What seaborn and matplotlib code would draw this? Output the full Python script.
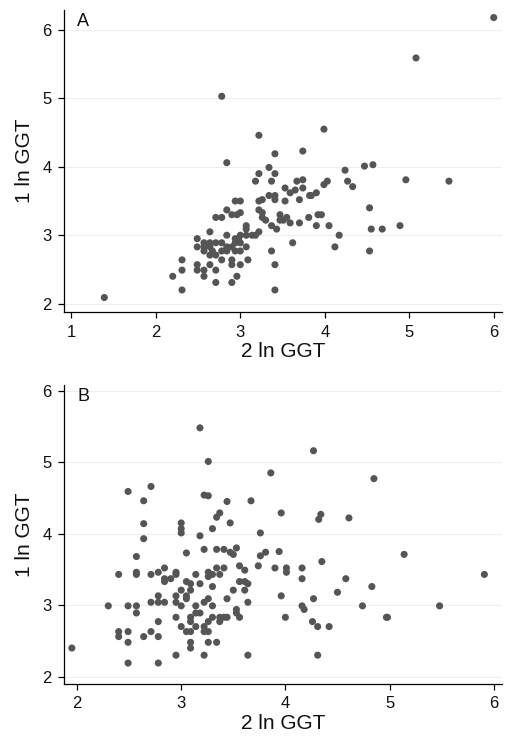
import numpy as np
import pandas as pd
import matplotlib
matplotlib.use("Agg")
import matplotlib.pyplot as plt
import seaborn as sns

# panel A: (2 ln GGT, 1 ln GGT)
a_x = [6.00, 5.08, 2.78, 3.99, 3.22, 3.74, 3.41, 2.84, 4.57, 4.47,
       3.34, 4.24, 3.22, 3.41, 3.18, 3.37, 3.67, 3.74, 4.27, 4.96,
       5.47, 4.03, 3.99, 4.33, 3.53, 3.74, 3.65, 3.59, 3.90, 3.82,
       3.84, 3.34, 3.41, 3.41, 3.26, 3.22, 3.53, 3.70, 2.94, 3.00,
       4.53, 2.84, 3.22, 3.26, 2.90, 2.96, 3.00, 3.47, 3.92, 3.96,
       2.71, 2.78, 3.26, 3.30, 3.47, 3.55, 3.51, 3.59, 3.70, 3.81,
       3.07, 3.37, 3.90, 4.05, 4.89, 3.07, 3.43, 4.55, 4.68, 2.64,
       3.22, 3.14, 3.18, 3.07, 3.00, 2.84, 4.17, 2.49, 2.94, 2.98,
       2.57, 2.64, 2.71, 2.78, 2.94, 3.00, 3.62, 2.49, 2.57, 2.64,
       2.84, 2.90, 3.07, 4.12, 2.57, 2.67, 2.78, 2.84, 2.94, 3.00,
       3.37, 4.53, 2.64, 2.71, 2.31, 2.78, 2.90, 3.09, 2.49, 2.64,
       2.90, 3.00, 3.41, 2.31, 2.49, 2.57, 2.71, 2.20, 2.57, 2.96,
       2.71, 2.90, 2.31, 3.41, 1.39]
a_y = [6.18, 5.59, 5.03, 4.55, 4.46, 4.23, 4.19, 4.06, 4.03, 4.01,
       3.99, 3.95, 3.90, 3.90, 3.79, 3.79, 3.79, 3.81, 3.79, 3.81,
       3.79, 3.79, 3.74, 3.71, 3.69, 3.69, 3.66, 3.62, 3.62, 3.58,
       3.58, 3.58, 3.58, 3.52, 3.52, 3.50, 3.50, 3.52, 3.50, 3.50,
       3.40, 3.37, 3.37, 3.33, 3.30, 3.30, 3.33, 3.30, 3.30, 3.30,
       3.26, 3.26, 3.26, 3.22, 3.22, 3.26, 3.22, 3.18, 3.18, 3.26,
       3.14, 3.14, 3.14, 3.14, 3.14, 3.09, 3.09, 3.09, 3.09, 3.05,
       3.05, 3.00, 3.00, 3.00, 3.00, 3.00, 3.00, 2.95, 2.95, 2.95,
       2.89, 2.89, 2.89, 2.89, 2.89, 2.89, 2.89, 2.83, 2.83, 2.83,
       2.83, 2.83, 2.83, 2.83, 2.77, 2.77, 2.77, 2.77, 2.77, 2.77,
       2.77, 2.77, 2.71, 2.71, 2.64, 2.64, 2.64, 2.64, 2.57, 2.57,
       2.57, 2.57, 2.57, 2.49, 2.49, 2.49, 2.49, 2.40, 2.40, 2.40,
       2.31, 2.31, 2.20, 2.20, 2.09]

# panel B
b_x = [1.95, 3.18, 4.27, 3.26, 3.86, 4.85, 2.71, 2.49, 3.22, 3.26,
       2.64, 3.44, 3.67, 3.96, 3.37, 3.34, 4.34, 4.32, 4.61, 2.64,
       3.47, 3.00, 3.00, 3.30, 3.00, 3.76, 3.18, 2.64, 3.22, 3.34,
       3.41, 3.53, 3.05, 3.47, 3.50, 3.81, 3.76, 3.94, 5.14, 2.57,
       4.35, 3.74, 3.56, 3.90, 4.01, 4.16, 4.01, 2.84, 3.34, 3.41,
       3.61, 5.91, 2.40, 2.57, 2.57, 2.71, 2.78, 2.95, 2.95, 3.14,
       3.26, 3.26, 3.30, 3.37, 2.84, 2.84, 2.90, 3.05, 3.09, 3.18,
       3.56, 3.61, 3.64, 4.16, 4.58, 4.83, 3.30, 3.00, 3.09, 3.50,
       3.61, 4.50, 3.96, 2.95, 3.05, 3.05, 2.78, 3.26, 3.44, 4.27,
       2.71, 2.78, 2.84, 2.95, 3.22, 3.64, 2.30, 2.49, 2.57, 3.00,
       3.14, 3.30, 4.16, 4.74, 5.48, 4.18, 3.53, 2.57, 3.14, 3.18,
       3.53, 3.09, 2.95, 3.30, 3.37, 3.41, 3.44, 3.56, 4.00, 4.97,
       4.98, 2.78, 3.09, 3.26, 3.37, 4.26, 3.00, 3.14, 3.22, 4.31,
       4.42, 2.40, 2.49, 2.71, 3.05, 3.09, 3.22, 3.26, 2.40, 2.64,
       2.78, 2.49, 3.09, 3.26, 3.34, 3.09, 2.95, 3.22, 3.64, 4.31,
       2.49, 2.78]
b_y = [2.40, 5.48, 5.16, 5.01, 4.85, 4.77, 4.66, 4.59, 4.54, 4.53,
       4.46, 4.45, 4.46, 4.29, 4.29, 4.23, 4.27, 4.20, 4.22, 4.14,
       4.15, 4.15, 4.07, 4.07, 4.01, 4.01, 3.97, 3.93, 3.78, 3.78,
       3.78, 3.80, 3.73, 3.74, 3.71, 3.74, 3.69, 3.75, 3.71, 3.68,
       3.61, 3.55, 3.55, 3.52, 3.52, 3.52, 3.46, 3.52, 3.52, 3.52,
       3.49, 3.43, 3.43, 3.46, 3.43, 3.43, 3.46, 3.46, 3.43, 3.43,
       3.46, 3.40, 3.43, 3.43, 3.37, 3.33, 3.37, 3.33, 3.30, 3.30,
       3.33, 3.33, 3.30, 3.37, 3.37, 3.26, 3.26, 3.21, 3.21, 3.21,
       3.21, 3.18, 3.13, 3.13, 3.13, 3.09, 3.13, 3.09, 3.09, 3.09,
       3.04, 3.04, 3.04, 3.04, 3.04, 3.04, 2.99, 2.99, 2.99, 2.99,
       2.99, 2.99, 2.99, 2.99, 2.99, 2.94, 2.94, 2.89, 2.89, 2.89,
       2.89, 2.83, 2.83, 2.83, 2.83, 2.83, 2.83, 2.83, 2.83, 2.83,
       2.83, 2.77, 2.77, 2.77, 2.77, 2.77, 2.70, 2.70, 2.70, 2.70,
       2.70, 2.63, 2.63, 2.63, 2.63, 2.63, 2.63, 2.63, 2.56, 2.56,
       2.56, 2.48, 2.48, 2.48, 2.48, 2.40, 2.30, 2.30, 2.30, 2.30,
       2.19, 2.19]

xlabel = "2 ln GGT"
ylabel = "1 ln GGT"

sns.set_theme(style="ticks")
plt.rcParams['font.family'] = ['Liberation Sans', 'DejaVu Sans']

fig = plt.figure(figsize=(5.12, 7.49), dpi=100)
axA = fig.add_axes([0.125, 0.5834, 0.855, 0.4032])
axB = fig.add_axes([0.125, 0.0868, 0.855, 0.3992])

dfA = pd.DataFrame({"x": a_x, "y": a_y})
dfB = pd.DataFrame({"x": b_x, "y": b_y})

panels = [(axA, dfA, "A", (0.913, 6.095), (1.878, 6.29), [1, 2, 3, 4, 5, 6]),
          (axB, dfB, "B", (1.875, 6.077), (1.897, 6.08), [2, 3, 4, 5, 6])]

for ax, df, letter, xl, yl, xt in panels:
    ax.yaxis.grid(True, color="#eeeeee", linewidth=0.8, zorder=0)
    sns.scatterplot(data=df, x="x", y="y", ax=ax, color="#555555",
                    s=26, edgecolor="none", zorder=3)
    ax.set_xlim(*xl)
    ax.set_ylim(*yl)
    ax.set_xticks(xt)
    ax.set_yticks([2, 3, 4, 5, 6])
    ax.set_xlabel(xlabel, fontsize=15, labelpad=2, color="#111111")
    ax.set_ylabel(ylabel, fontsize=15, labelpad=6, color="#111111")
    ax.tick_params(axis="both", labelsize=12, length=4, width=0.9,
                   color="black", labelcolor="#111111", direction="out", pad=5)
    for side in ["top", "right"]:
        ax.spines[side].set_visible(False)
    for side in ["left", "bottom"]:
        ax.spines[side].set_color("black")
        ax.spines[side].set_linewidth(0.9)
    ax.text(0.03, 0.99, letter, transform=ax.transAxes, fontsize=13,
            va="top", ha="left", color="#111111")

fig.savefig("out.png", dpi=100)
